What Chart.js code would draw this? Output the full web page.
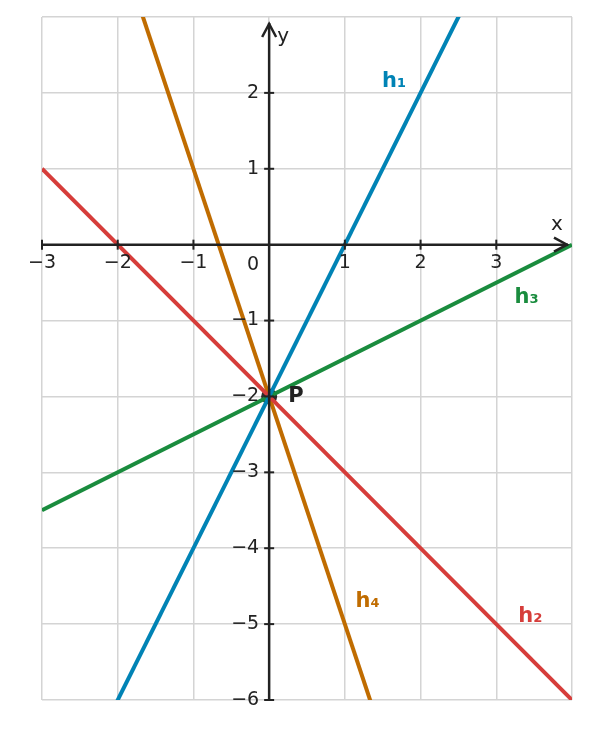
<!DOCTYPE html>
<html><head><meta charset="utf-8">
<script src="https://cdn.jsdelivr.net/npm/chart.js@4"></script>
<style>body{margin:0;background:#fff}#w{width:590px;height:729px}</style>
</head><body><div id="w"><canvas id="c"></canvas></div>
<script>
const xRange=[-3,4], yRange=[-6,3];
const xTicks=[-3,-2,-1,1,2,3];
const yTicks=[-6,-5,-4,-3,-2,-1,1,2];
const names=['h₁','h₂','h₃','h₄'];
const slopes=[2,-1,0.5,-3];
const intercepts=[-2,-2,-2,-2];
const colors=['#0083b5','#d63d3a','#1a8c3e','#c06c00'];
const labelPos=[[1.65,2.15],[3.45,-4.9],[3.4,-0.7],[1.3,-4.7]];
const P=[0,-2];
const datasets=names.map((n,i)=>({label:n,data:[xRange[0],xRange[1]].map(x=>({x,y:slopes[i]*x+intercepts[i]})),
 borderColor:colors[i],borderWidth:4,showLine:true,pointRadius:0,fill:false}));
datasets.push({label:'P',data:[{x:P[0],y:P[1]}],pointRadius:8,pointBackgroundColor:'#2a2a2a',pointBorderWidth:0,showLine:false});
const fmt=v=>(v<0?'−'+(-v):String(v));
const axes={id:'axes',afterDatasetsDraw(ch){
 const c=ch.ctx,xs=ch.scales.x,ys=ch.scales.y,a=ch.chartArea;
 const x0=xs.getPixelForValue(0),y0=ys.getPixelForValue(0);
 c.save();c.strokeStyle='#222';c.fillStyle='#222';c.lineWidth=2.5;
 c.beginPath();c.moveTo(a.left,y0);c.lineTo(a.right-4,y0);c.moveTo(x0,a.bottom);c.lineTo(x0,a.top+6);c.stroke();
 c.lineWidth=2.5;c.beginPath();c.moveTo(a.right-18,y0-7);c.lineTo(a.right-5,y0);c.lineTo(a.right-18,y0+7);c.stroke();
 c.beginPath();c.moveTo(x0-7,a.top+20);c.lineTo(x0,a.top+7);c.lineTo(x0+7,a.top+20);c.stroke();
 c.font='19px "DejaVu Sans"';c.lineWidth=2;
 c.textAlign='center';c.textBaseline='top';
 xTicks.forEach(v=>{const p=xs.getPixelForValue(v);c.beginPath();c.moveTo(p,y0-5);c.lineTo(p,y0+5);c.stroke();c.fillText(fmt(v),p,y0+9);});
 c.textAlign='right';c.textBaseline='middle';
 yTicks.forEach(v=>{const p=ys.getPixelForValue(v);c.beginPath();c.moveTo(x0-5,p);c.lineTo(x0+5,p);c.stroke();c.fillText(fmt(v),x0-10,p);});
 c.fillText('0',x0-10,y0+20);
 c.textAlign='left';c.font='20px "DejaVu Sans"';
 c.fillText('y',x0+8,a.top+20);
 c.textAlign='center';c.fillText('x',a.right-15,y0-20);
 c.font='bold 21px "DejaVu Sans"';c.textAlign='left';
 c.fillText('P',xs.getPixelForValue(P[0])+19,ys.getPixelForValue(P[1]));
 c.textAlign='center';
 names.forEach((n,i)=>{c.fillStyle=colors[i];c.fillText(n,xs.getPixelForValue(labelPos[i][0]),ys.getPixelForValue(labelPos[i][1]));});
 c.restore();}};
new Chart(document.getElementById('c'),{type:'scatter',data:{datasets},
 options:{responsive:true,maintainAspectRatio:false,animation:false,
 layout:{padding:{left:42,right:18,top:17,bottom:29}},
 plugins:{legend:{display:false},tooltip:{enabled:false}},
 scales:{x:{type:'linear',min:xRange[0],max:xRange[1],ticks:{display:false,stepSize:1},grid:{color:'#d4d4d4',lineWidth:1.5,drawTicks:false},border:{display:false}},
 y:{type:'linear',min:yRange[0],max:yRange[1],ticks:{display:false,stepSize:1},grid:{color:'#d4d4d4',lineWidth:1.5,drawTicks:false},border:{display:false}}}},
 plugins:[axes]});
</script></body></html>
